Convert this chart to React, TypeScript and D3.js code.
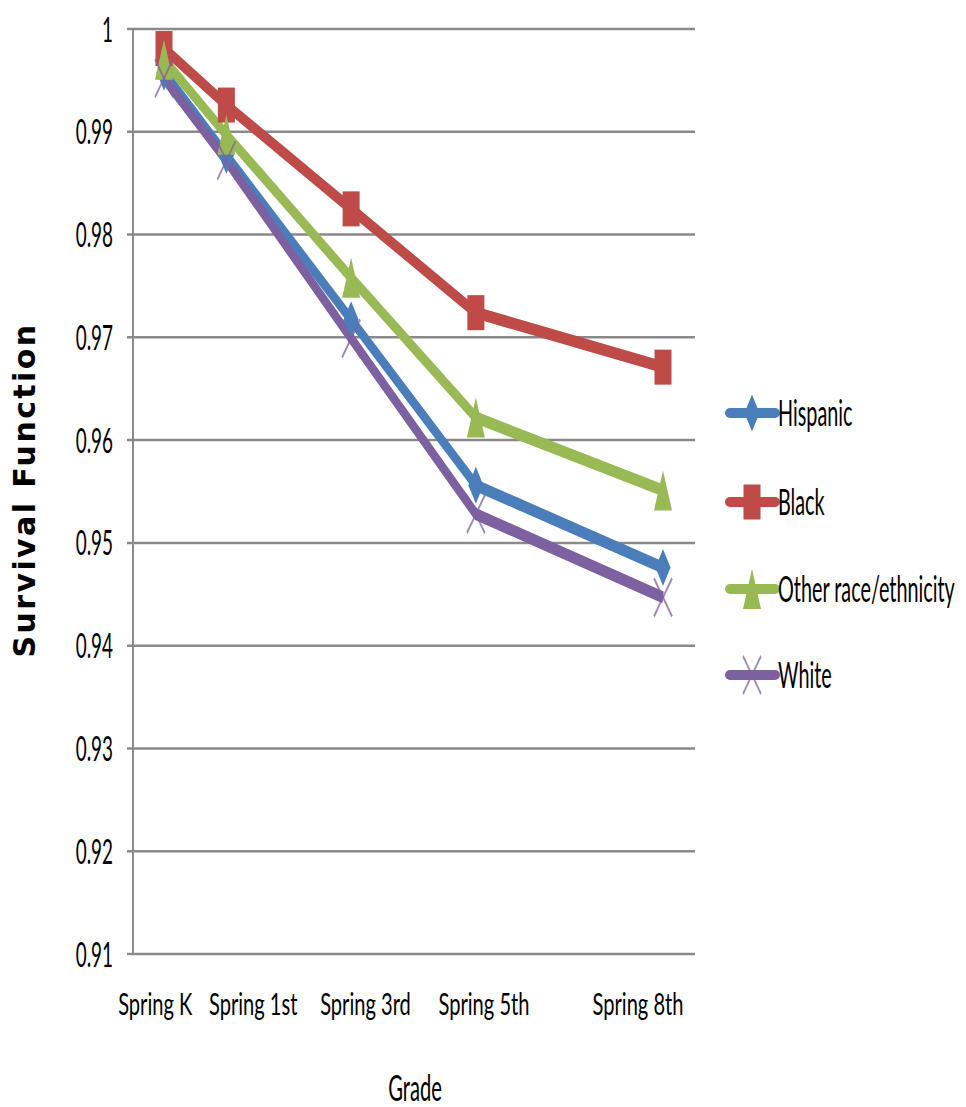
import React from "react";
import * as d3 from "d3";

// Grade at each spring wave (K = 0) and the labels shown under the axis
const grades = [0, 1, 3, 5, 8];
const gradeLabels = ["Spring K", "Spring 1st", "Spring 3rd", "Spring 5th", "Spring 8th"];
// where each category label sits along the grade axis
const labelAt = [-0.14, 1.43, 3.23, 5.13, 7.6];

// Survival function by race/ethnicity
const hispanic = [0.9958, 0.9877, 0.9717, 0.9556, 0.9476];
const black = [0.9981, 0.9926, 0.9825, 0.9724, 0.9671];
const other = [0.997, 0.9897, 0.9758, 0.9622, 0.9551];
const white = [0.9952, 0.9872, 0.9699, 0.9528, 0.9447];

const seriesNames = ["Hispanic", "Black", "Other race/ethnicity", "White"];
const seriesValues = [hispanic, black, other, white];
const seriesColors = ["#4A7EBB", "#BE4B48", "#98B954", "#7D60A0"];
const seriesMarkers = ["diamond", "square", "triangle", "x"];

const yTicks = d3.range(0, 10).map((i) => +(0.91 + i * 0.01).toFixed(2));

const W = 966;
const H = 1107;
const LS = 0.5; // horizontal squeeze applied to strokes and markers
const FONT = "Lato, 'Liberation Sans', sans-serif";

const x = d3.scaleLinear().domain([0, 8]).range([164, 663]);
const y = d3.scaleLinear().domain([0.91, 1]).range([954, 29]);
const plotLeft = 133;
const plotRight = 695;

function Marker({ kind, cx, cy, color }: { kind: string; cx: number; cy: number; color: string }) {
  const t = `translate(${cx},${cy}) scale(${LS},1)`;
  if (kind === "diamond")
    return <path transform={t} d="M0,-18.5L15,0L0,18.5L-15,0Z" fill={color} />;
  if (kind === "square")
    return <rect transform={t} x={-17} y={-17.5} width={34} height={35} fill={color} />;
  if (kind === "triangle")
    return <path transform={t} d="M0,-20L18,20L-18,20Z" fill={color} />;
  return (
    <g transform={t} stroke={color} strokeWidth={3} strokeOpacity={0.75}>
      <line x1={-18} y1={-19} x2={18} y2={19} />
      <line x1={-18} y1={19} x2={18} y2={-19} />
    </g>
  );
}

function CondText({
  x0,
  y0,
  size,
  sx,
  anchor,
  children,
  weight,
}: {
  x0: number;
  y0: number;
  size: number;
  sx: number;
  anchor: string;
  children: React.ReactNode;
  weight?: string | number;
}) {
  return (
    <text
      transform={`translate(${x0},${y0}) scale(${sx},1)`}
      fontFamily={FONT}
      fontSize={size}
      fontWeight={weight ?? "normal"}
      textAnchor={anchor as any}
      fill="#000"
    >
      {children}
    </text>
  );
}

export default function App() {
  const line = d3
    .line<[number, number]>()
    .x((d) => d[0] / LS)
    .y((d) => d[1]);

  const legendY = [413, 502, 589, 675];

  return (
    <svg
      width={W}
      height={H}
      viewBox={`0 0 ${W} ${H}`}
      style={{ position: "absolute", left: 0, top: 0, background: "#fff" }}
    >
      <rect x={0} y={0} width={W} height={H} fill="#fff" />

      {/* gridlines and tick marks */}
      {yTicks.map((v) => (
        <line
          key={"g" + v}
          x1={plotLeft - 6}
          x2={plotRight}
          y1={y(v)}
          y2={y(v)}
          stroke="#8a8a8a"
          strokeWidth={2.5}
        />
      ))}
      {/* value axis */}
      <line x1={plotLeft} x2={plotLeft} y1={y(1)} y2={y(0.91)} stroke="#8a8a8a" strokeWidth={2} />

      {/* tick labels */}
      {yTicks.map((v) => (
        <CondText key={"t" + v} x0={113} y0={y(v) + 12.5} size={35} sx={0.54} anchor="end">
          {String(v)}
        </CondText>
      ))}

      {/* category labels */}
      {gradeLabels.map((lab, i) => (
        <CondText key={lab} x0={x(labelAt[i])} y0={1015} size={30} sx={0.67} anchor="middle">
          {lab}
        </CondText>
      ))}

      {/* axis titles */}
      <CondText x0={415} y0={1101} size={36} sx={0.56} anchor="middle">
        Grade
      </CondText>
      <text
        transform="translate(35,490) rotate(-90)"
        fontFamily="'DejaVu Sans', sans-serif"
        fontWeight="bold"
        fontSize={30}
        letterSpacing={2.4}
        textAnchor="middle"
        fill="#000"
      >
        Survival Function
      </text>

      {/* series lines */}
      <g transform={`scale(${LS},1)`} fill="none" strokeLinejoin="round">
        {seriesValues.map((vals, si) => (
          <path
            key={"l" + si}
            d={line(vals.map((v, i) => [x(grades[i]), y(v)] as [number, number])) || ""}
            stroke={seriesColors[si]}
            strokeWidth={12}
          />
        ))}
      </g>

      {/* series markers */}
      {seriesValues.map((vals, si) =>
        vals.map((v, i) => (
          <Marker
            key={`m${si}-${i}`}
            kind={seriesMarkers[si]}
            cx={x(grades[i])}
            cy={y(v)}
            color={seriesColors[si]}
          />
        ))
      )}

      {/* legend */}
      {seriesNames.map((name, si) => (
        <g key={name}>
          <line
            x1={730}
            x2={775}
            y1={legendY[si]}
            y2={legendY[si]}
            stroke={seriesColors[si]}
            strokeWidth={10}
            strokeLinecap="round"
          />
          <Marker kind={seriesMarkers[si]} cx={752} cy={legendY[si]} color={seriesColors[si]} />
          <CondText x0={778} y0={legendY[si] + 13} size={36} sx={0.55} anchor="start">
            {name}
          </CondText>
        </g>
      ))}
    </svg>
  );
}
